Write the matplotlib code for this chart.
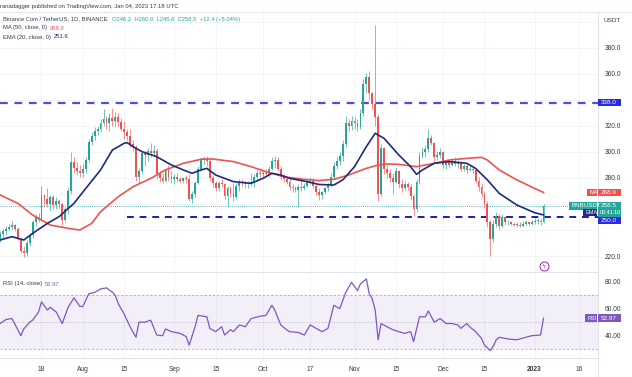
import matplotlib
matplotlib.use("Agg")
import matplotlib.pyplot as plt
import matplotlib.dates as mdates
from matplotlib.patches import Rectangle
from matplotlib.lines import Line2D
import numpy as np
import pandas as pd

# ---------------- data ----------------
start_day = "2022-07-04"
first_open = 233.0
last_open = 246.2
closes = [
    # Jul
    237, 239, 241, 242, 244, 241, 233, 224, 222, 230, 236, 246, 250, 248, 267, 264,
    260, 265, 259, 262, 260, 248, 256, 270, 292, 288, 285, 284,
    # Aug
    287, 294, 308, 312, 316, 318, 322, 325, 322, 326, 324, 327, 323, 318, 315, 312,
    306, 304, 281, 285, 299, 298, 301, 299, 301, 283, 280, 278, 286, 281, 279,
    # Sep
    281, 279, 278, 280, 279, 264, 268, 276, 287, 294, 295, 293, 280, 276, 272, 276,
    275, 266, 272, 268, 265, 274, 277, 276, 275, 276, 277, 281, 284, 283,
    # Oct
    284, 283, 287, 293, 294, 287, 281, 279, 277, 273, 272, 271, 273, 272, 274, 277,
    278, 274, 269, 267, 269, 272, 275, 281, 289, 293, 297, 306, 322, 320, 324,
    # Nov
    322, 319, 330, 352, 358, 345, 337, 327, 268, 303, 287, 284, 280, 277, 285, 275,
    272, 275, 273, 266, 256, 277, 297, 300, 302, 311, 307, 296, 298, 300,
    # Dec
    290, 292, 290, 293, 291, 292, 287, 289, 286, 287, 286, 278, 273, 268, 260, 246,
    233, 245, 251, 243, 250, 246, 246, 245, 244, 244, 243, 245, 246, 245, 246,
    # Jan
    247, 247, 246.1, 258.5,
]
highs = [
    239, 241, 243, 245, 247, 245, 242, 235, 228, 232, 238, 248, 252, 253, 274, 268,
    272, 267, 267, 265, 264, 261, 258, 273, 300, 296, 292, 290,
    291, 296, 310, 315, 319, 320, 325, 333, 328, 330, 334, 331, 330, 326, 324, 318,
    318, 309, 305, 288, 301, 301, 303, 307, 305, 303, 285, 284, 288, 290, 285,
    283, 284, 281, 281, 282, 283, 270, 278, 289, 296, 297, 297, 296, 282, 278, 278,
    279, 276, 274, 274, 276, 276, 279, 279, 278, 278, 284, 283, 286, 288,
    286, 287, 289, 296, 297, 296, 289, 283, 280, 279, 275, 274, 275, 280, 276, 279,
    281, 280, 275, 272, 270, 273, 276, 284, 292, 296, 300, 309, 328, 325, 328,
    327, 325, 333, 356, 361, 362, 346, 398, 329, 306, 304, 290, 287, 284, 288, 286,
    279, 278, 277, 275, 268, 279, 300, 304, 305, 318, 313, 308, 301, 303,
    301, 294, 294, 295, 296, 294, 293, 291, 291, 289, 289, 288, 281, 276, 270, 262,
    248, 248, 254, 252, 252, 251, 248, 247, 246, 246, 246, 247, 248, 247, 248,
    249, 249, 249, 260.0,
]
lows = [
    231, 234, 236, 239, 240, 239, 232, 222, 219, 220, 228, 234, 243, 246, 247, 258,
    258, 255, 256, 256, 257, 244, 246, 252, 268, 284, 282, 281,
    281, 284, 292, 305, 309, 313, 315, 320, 318, 316, 320, 320, 320, 316, 310, 309,
    304, 301, 278, 276, 283, 289, 293, 296, 297, 280, 277, 276, 277, 278, 276,
    275, 277, 276, 276, 276, 262, 261, 265, 275, 285, 291, 289, 278, 273, 270, 270,
    273, 264, 258, 265, 262, 264, 270, 274, 272, 272, 274, 273, 278, 280,
    281, 281, 281, 286, 288, 285, 279, 277, 275, 271, 269, 269, 258, 270, 271, 273,
    275, 272, 267, 263, 264, 268, 270, 273, 279, 287, 290, 293, 304, 316, 317,
    318, 316, 318, 328, 345, 340, 333, 320, 262, 266, 283, 280, 277, 268, 276, 272,
    269, 271, 271, 263, 251, 254, 275, 295, 296, 300, 305, 293, 294, 295,
    288, 287, 288, 289, 289, 288, 285, 285, 284, 285, 284, 276, 270, 265, 257, 242,
    220, 231, 242, 241, 242, 244, 244, 244, 243, 242, 242, 242, 244, 243, 244,
    245, 245, 244, 245.6,
]

# moving averages, sampled by day offset from start_day
ma_days = [0, 6, 11, 17, 23, 27, 31, 34, 40, 45, 51, 56, 62, 68, 72, 79, 85, 90, 96,
           102, 108, 113, 118, 124, 128, 131, 135, 141, 147, 152, 158, 163, 165, 169,
           175, 181, 184]
ma_vals = [266.9, 260.5, 251.5, 243.8, 241.3, 240.0, 245.1, 254.1, 265.6, 273.3,
           279.7, 286.2, 291.3, 294.4, 294.6, 292.6, 288.7, 284.9, 281.0, 279.2,
           278.0, 279.0, 282.3, 287.4, 290.0, 290.8, 290.5, 288.7, 291.3, 293.8,
           295.1, 295.9, 293.8, 286.2, 278.5, 272.0, 268.9]
ema_days = [0, 4, 8, 11, 16, 20, 25, 29, 34, 38, 42, 43, 45, 48, 53, 58, 62, 65, 68,
            70, 73, 79, 85, 89, 92, 95, 98, 104, 108, 113, 116, 120, 124, 127, 130,
            135, 139, 141, 143, 147, 152, 158, 161, 165, 169, 175, 181, 184]
ema_vals = [232.3, 234.9, 232.3, 237.4, 245.1, 250.3, 260.5, 272.0, 286.2, 301.5,
            306.7, 307.2, 304.1, 300.3, 296.4, 290.0, 286.2, 283.6, 286.2, 287.4,
            282.3, 277.2, 275.9, 279.7, 283.6, 282.3, 279.7, 277.2, 275.0, 274.6,
            278.5, 288.7, 304.1, 314.4, 310.5, 297.7, 288.7, 282.8, 286.2, 291.3,
            292.6, 291.3, 287.4, 278.5, 268.2, 259.2, 253.3, 251.6]

rsi_days = [0, 2, 4, 7, 8, 10, 11, 13, 14, 16, 17, 19, 21, 23, 25, 27, 28, 30, 32, 34,
            36, 38, 39, 40, 42, 44, 46, 47, 49, 51, 53, 55, 56, 58, 61, 63, 64, 66, 67,
            69, 70, 71, 73, 75, 76, 78, 79, 81, 83, 85, 88, 90, 92, 93, 95, 97, 98, 101,
            103, 105, 107, 109, 111, 113, 115, 117, 119, 121, 122, 124, 125, 126, 127,
            128, 129, 131, 133, 135, 137, 139, 140, 142, 144, 145, 147, 149, 151, 153,
            155, 156, 158, 159, 161, 163, 164, 166, 167, 168, 169, 171, 173, 175, 178,
            180, 183, 184]
rsi_vals = [49, 52, 52.7, 40, 45, 50, 51.5, 57.5, 65, 59, 61, 57.5, 49, 61, 68, 61.7,
            61.7, 71, 72, 74.6, 75.4, 72.2, 69.8, 63.7, 56, 46.6, 38.8, 50, 50, 51.5,
            40.5, 40, 45, 43, 41.7, 39.3, 33, 46.6, 55, 54.4, 54, 45.4, 43, 46.6, 40.5,
            44.4, 43, 48, 46.6, 52.7, 54.4, 55, 62.5, 59, 48, 44.4, 43, 42.4, 40.5, 48,
            45.4, 43, 45.4, 62.5, 60, 72, 79.5, 73.4, 78.3, 82, 71, 67.3, 59, 37, 49,
            46.6, 44.4, 43, 41.7, 43, 35.6, 54, 54, 58.3, 50, 52.7, 49, 49, 48, 45.4, 49,
            46.6, 43, 38, 33, 29, 32.4, 37, 38.8, 38, 37.3, 37, 38.8, 40, 40.5, 52.97]

resistance = 338.0
support = 250.0
support_from = "2022-08-16"
last_ma, last_ema, last_rsi = 268.9, 251.6, 52.97

tick_dates = ["2022-07-18", "2022-08-01", "2022-08-15", "2022-09-01", "2022-09-15",
              "2022-10-01", "2022-10-17", "2022-11-01", "2022-11-15", "2022-12-01",
              "2022-12-15", "2023-01-01", "2023-01-16"]
tick_labels = ["18", "Aug", "15", "Sep", "15", "Oct", "17", "Nov", "15", "Dec", "15",
               "2023", "16"]
price_ticks = [220, 280, 300, 320, 360, 380]
price_grid = [220, 240, 260, 280, 300, 320, 340, 360, 380, 400]
rsi_ticks = [40, 60, 80]

# ---------------- style ----------------
plt.rcParams.update({
    "font.family": ["Liberation Sans", "DejaVu Sans"],
    "font.size": 5,
    "figure.facecolor": "white",
    "axes.facecolor": "white",
})
UP, DOWN = "#26a69a", "#ef5350"
MA_C, EMA_C, RSI_C = "#ef5350", "#1f2a80", "#7e57c2"
LEVEL_C, BOX_C = "#4f4fd6", "#2a2ae6"
GRID_C, BORDER_C, TXT = "#f0f3fa", "#e0e3eb", "#363a45"

W, H = 632, 377
fig = plt.figure(figsize=(W / 100, H / 100), dpi=100)
ax = fig.add_axes([0, 1 - 272 / H, 598 / W, (272 - 13) / H])
ax_r = fig.add_axes([0, 1 - 358 / H, 598 / W, (358 - 273) / H], sharex=ax)

dates = pd.date_range(start_day, periods=len(closes), freq="D")
x = mdates.date2num(dates)
x0 = mdates.date2num(pd.Timestamp(start_day))
opens = [first_open] + closes[:-1]
opens[-1] = last_open

# candles
cols = [UP if c >= o else DOWN for o, c in zip(opens, closes)]
ax.vlines(x, lows, highs, colors=cols, linewidth=0.6, alpha=0.75, zorder=3)
bottoms = np.minimum(opens, closes)
heights = np.maximum(np.abs(np.array(closes) - np.array(opens)), 0.5)
ax.bar(x, heights, bottom=bottoms, width=0.62, color=cols, linewidth=0, zorder=4)

# moving averages
ax.plot(x0 + np.array(ma_days), ma_vals, color=MA_C, lw=1.2, zorder=5)
ax.plot(x0 + np.array(ema_days), ema_vals, color=EMA_C, lw=1.2, zorder=5)

# levels
xl = (mdates.date2num(pd.Timestamp("2022-07-18")) - 14.05,
      mdates.date2num(pd.Timestamp("2022-07-18")) + 188.45)
ax.axhline(resistance, color=LEVEL_C, lw=1.6, ls=(0, (3.5, 3)), zorder=2)
ax.hlines(support, mdates.date2num(pd.Timestamp(support_from)), xl[1],
          color="#1c1cb0", lw=1.4, ls=(0, (3.5, 3)), zorder=2)
ax.axhline(closes[-1], color=UP, lw=0.6, ls=(0, (1, 1.5)), zorder=2)

ax.set_xlim(*xl)
ax.set_ylim(207.7, 406.9)
ax_r.set_ylim(23.5, 86.4)

for a in (ax, ax_r):
    for s in a.spines.values():
        s.set_visible(False)
    a.spines["right"].set_visible(True)
    a.spines["right"].set_color(BORDER_C)
    a.spines["bottom"].set_visible(True)
    a.spines["bottom"].set_color(BORDER_C)
    a.yaxis.tick_right()
    a.tick_params(axis="y", length=0, pad=5, labelsize=4.8, labelcolor=TXT)
    a.tick_params(axis="x", length=0)
    for t in mdates.date2num(pd.to_datetime(tick_dates)):
        a.axvline(t, color=GRID_C, lw=0.6, zorder=0)

for g in price_grid:
    ax.axhline(g, color=GRID_C, lw=0.6, zorder=0)
ax.set_yticks(price_ticks)
ax.set_yticklabels([f"{v:.1f}" for v in price_ticks])
plt.setp(ax.get_xticklabels(), visible=False)

# RSI pane
ax_r.axhspan(30, 70, color=RSI_C, alpha=0.09, lw=0, zorder=0)
ax_r.axhline(70, color="#9598a1", lw=0.5, ls=(0, (3, 3)), zorder=1)
ax_r.axhline(30, color="#9598a1", lw=0.5, ls=(0, (3, 3)), zorder=1)
ax_r.axhline(50, color="#9598a1", lw=0.5, ls=(0, (1, 2)), zorder=1)
ax_r.plot(x0 + np.array(rsi_days), rsi_vals, color=RSI_C, lw=0.9, zorder=3)
ax_r.set_yticks(rsi_ticks)
ax_r.set_yticklabels([f"{v:.2f}" for v in rsi_ticks])
ax_r.set_xticks(mdates.date2num(pd.to_datetime(tick_dates)))
ax_r.set_xticklabels(tick_labels)
ax_r.tick_params(axis="x", pad=6, labelsize=4.8, labelcolor=TXT)
for lab in ax_r.get_xticklabels():
    if lab.get_text() == "2023":
        lab.set_fontweight("bold")

# event icon near the bottom of the price pane
ev = mdates.date2num(pd.Timestamp("2023-01-04"))
ax.plot([ev], [0.023], transform=ax.get_xaxis_transform(), marker="o", ms=6.5,
        mfc="white", mec="#9c27b0", mew=0.7, zorder=6, clip_on=False)
ax.text(ev, 0.023, "ϟ", transform=ax.get_xaxis_transform(), color="#9c27b0",
        fontsize=4.5, ha="center", va="center", zorder=7, family="DejaVu Sans")


# ---------------- price-scale tags ----------------
def ypix(a, v):
    return H - a.transData.transform((xl[0], v))[1]


def box(x0p, x1p, yc, h, fc):
    fig.patches.append(Rectangle((x0p / W, 1 - (yc + h / 2) / H), (x1p - x0p) / W, h / H,
                                 transform=fig.transFigure, facecolor=fc,
                                 edgecolor="none", zorder=8))


def label(xp, yp, s, color="white", fs=4.6, ha="left", weight="normal"):
    return fig.text(xp / W, 1 - yp / H, s, color=color, fontsize=fs, ha=ha,
                    va="center", zorder=9, fontweight=weight)


yr = ypix(ax, resistance)
box(598, 621, yr, 7.5, BOX_C)
label(601, yr, f"{resistance:.1f}")

ym = ypix(ax, last_ma)
box(587, 597, ym, 7.5, MA_C)
box(598, 621, ym, 7.5, MA_C)
label(589, ym, "MA", fs=4)
label(601, ym, f"{last_ma:.1f}")

yc = ypix(ax, closes[-1])
box(569, 597, yc, 7.5, UP)
box(598, 621, yc + 3.5, 14.5, UP)
label(571, yc, "BNBUSDT", fs=4.4)
label(601, yc, f"{closes[-1]:.1f}")
label(599.5, yc + 7, "06:41:10", fs=3.9)

ye = yc + 7
box(583, 597, ye, 7, EMA_C)
label(585, ye, "EMA", fs=4)

ys = ypix(ax, support) + 3.5
box(598, 621, ys, 7.5, BOX_C)
label(601, ys, f"{support:.1f}")

yrsi = ypix(ax_r, last_rsi)
box(585, 597, yrsi, 7.5, RSI_C)
box(598, 621, yrsi, 7.5, RSI_C)
label(587, yrsi, "RSI", fs=4)
label(600.5, yrsi, f"{last_rsi:.2f}")

label(603, 20, "USDT", color=TXT, fs=4.6)

# ---------------- header and legends ----------------
fig.add_artist(Line2D([0, 1], [1 - 12 / H, 1 - 12 / H], transform=fig.transFigure,
                      color=BORDER_C, lw=0.6))
fig.add_artist(Line2D([598 / W, 598 / W], [0, 1 - 12 / H], transform=fig.transFigure,
                      color=BORDER_C, lw=0.6))
label(0, 6.5, "ranadagger published on TradingView.com, Jan 04, 2023 17:18 UTC",
      color=TXT, fs=4.2)

fig.canvas.draw()
renderer = fig.canvas.get_renderer()


def legend_line(xp, yp, parts, fs=4.2):
    # parts: (text, colour, gap in px after it)
    for s, c, gap in parts:
        t = label(xp, yp, s, color=c, fs=fs)
        xp += t.get_window_extent(renderer).width + gap


chg = closes[-1] - closes[-2]
pct = chg / closes[-2] * 100
ohlc = (f"O{opens[-1]:.1f}  H{highs[-1]:.1f}  L{lows[-1]:.1f}  C{closes[-1]:.1f}"
        f"  +{chg:.1f} (+{pct:.2f}%)")
legend_line(3, 19, [("Binance Coin / TetherUS, 1D, BINANCE", TXT, 4), (ohlc, UP, 0)])
legend_line(3, 28, [("MA (50, close, 0)", TXT, 3), (f"{last_ma:.1f}", MA_C, 0)])
legend_line(3, 37, [("EMA (20, close, 0)", TXT, 3), (f"{last_ema:.1f}", EMA_C, 0)])
legend_line(3, 284, [("RSI (14, close)", TXT, 3), (f"{last_rsi:.2f}", RSI_C, 0)])

fig.savefig("out.png", dpi=100)
